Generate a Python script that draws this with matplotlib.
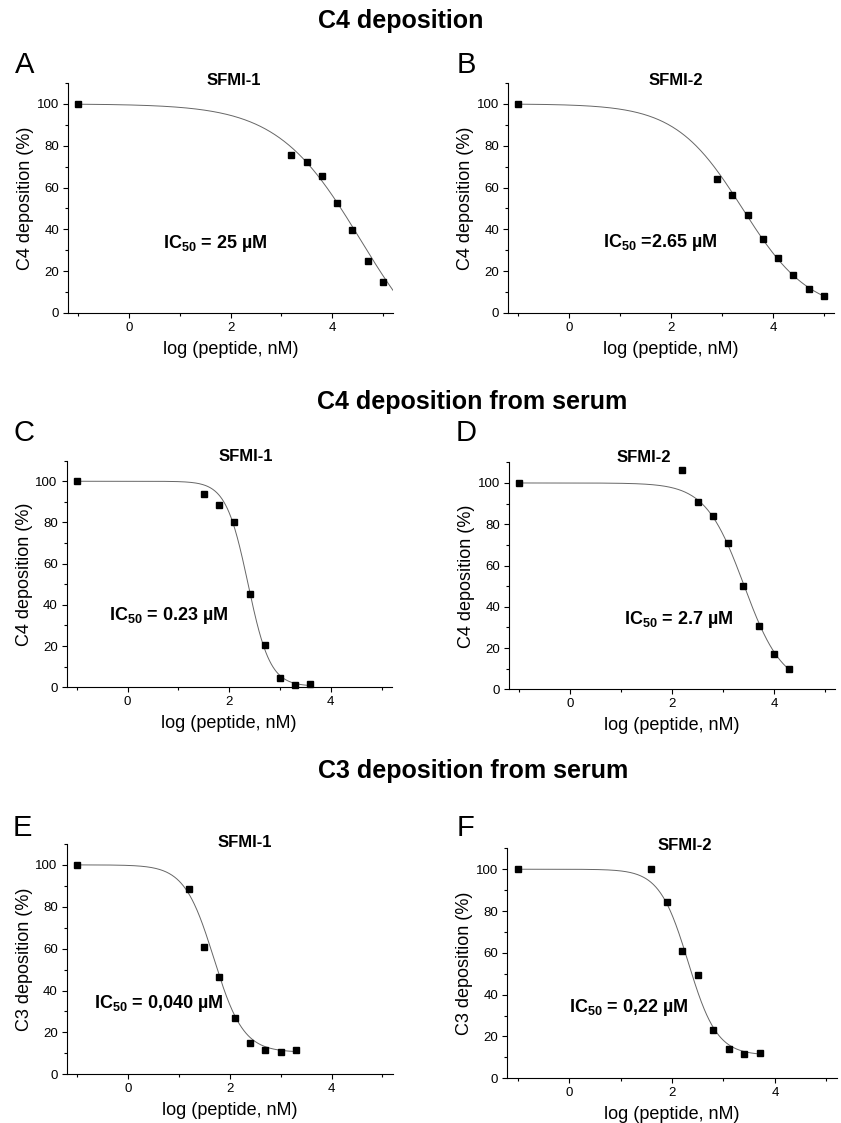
import matplotlib
matplotlib.use('Agg')
import matplotlib.pyplot as plt
import numpy as np
from matplotlib.ticker import MultipleLocator

plt.rcParams['font.family'] = ['Liberation Sans', 'DejaVu Sans']
plt.rcParams['mathtext.fontset'] = 'custom'
plt.rcParams['mathtext.rm'] = 'Liberation Sans:bold'
plt.rcParams['mathtext.bf'] = 'Liberation Sans:bold'
plt.rcParams['mathtext.default'] = 'rm'

# data: x = log(peptide, nM), y = deposition (%)
a_x = [-1, 3.2, 3.5, 3.8, 4.1, 4.4, 4.7, 5.0]
a_y = [100, 75.6, 72.2, 65.4, 52.8, 39.9, 24.9, 14.8]
b_x = [-1, 2.9, 3.2, 3.5, 3.8, 4.1, 4.4, 4.7, 5.0]
b_y = [100, 64.2, 56.4, 46.7, 35.4, 26.3, 18.2, 11.3, 8.3]
c_x = [-1, 1.5, 1.8, 2.1, 2.4, 2.7, 3.0, 3.3, 3.6]
c_y = [100, 94.0, 88.4, 80.0, 45.1, 20.4, 4.4, 1.1, 1.6]
d_x = [-1, 2.2, 2.5, 2.8, 3.1, 3.4, 3.7, 4.0, 4.3]
d_y = [100, 106.5, 90.8, 84.2, 70.8, 49.9, 30.9, 17.1, 10.0]
e_x = [-1, 1.2, 1.5, 1.8, 2.1, 2.4, 2.7, 3.0, 3.3]
e_y = [100, 88.7, 60.9, 46.6, 27.0, 14.8, 11.4, 10.8, 11.6]
f_x = [-1, 1.6, 1.9, 2.2, 2.5, 2.8, 3.1, 3.4, 3.7]
f_y = [100, 100, 84.4, 61.1, 49.5, 22.9, 13.9, 11.6, 12.3]

# fitted curves: top, bottom, logIC50, hill slope
a_fit = [100, -30, 4.56, 0.53]
b_fit = [100, 0, 3.40, 0.66]
c_fit = [100, 0.5, 2.37, 2.0]
d_fit = [100, 1, 3.41, 1.15]
e_fit = [100, 10.5, 1.69, 1.5]
f_fit = [100, 11, 2.315, 1.55]

ic_labels = ['IC$_{50}$ = 25 \u00b5M', 'IC$_{50}$ =2.65 \u00b5M', 'IC$_{50}$ = 0.23 \u00b5M',
             'IC$_{50}$ = 2.7 \u00b5M', 'IC$_{50}$ = 0,040 \u00b5M', 'IC$_{50}$ = 0,22 \u00b5M']


def hill(x, top, bottom, logic, h):
    return bottom + (top - bottom) / (1 + 10 ** (h * (x - logic)))


def panel(rect, x, y, fit, x_end, name, ylabel, ic, ic_xy, name_xy, letter, letter_xy):
    ax = fig.add_axes(rect)
    xs = np.linspace(x[0], x_end, 400)
    ax.plot(xs, hill(xs, *fit), color='#666666', lw=0.7)
    ax.plot(x, y, 's', color='black', ms=5, clip_on=False)
    ax.set_xlim(-1.2, 5.2)
    ax.set_ylim(0, 110)
    ax.spines['top'].set_visible(False)
    ax.spines['right'].set_visible(False)
    ax.xaxis.set_major_locator(MultipleLocator(2))
    ax.xaxis.set_minor_locator(MultipleLocator(1))
    ax.yaxis.set_major_locator(MultipleLocator(20))
    ax.yaxis.set_minor_locator(MultipleLocator(10))
    ax.tick_params(which='major', length=3.5, width=0.8, labelsize=9.5, pad=3)
    ax.tick_params(which='minor', length=2, width=0.8)
    ax.set_xlabel('log (peptide, nM)', fontsize=13, labelpad=5)
    ax.set_ylabel(ylabel, fontsize=13, labelpad=2)
    ax.text(ic_xy[0], ic_xy[1], ic, fontsize=13, fontweight='bold', ha='center', va='center')
    ax.text(name_xy[0], name_xy[1], name, fontsize=12, fontweight='bold', ha='center', va='center')
    fig.text(letter_xy[0], letter_xy[1], letter, fontsize=21, va='baseline')
    return ax


fig = plt.figure(figsize=(8.41, 11.23), dpi=100)

fig.text(0.477, 0.981, 'C4 deposition', fontsize=18, fontweight='bold', ha='center', va='center')
fig.text(0.561, 0.6416, 'C4 deposition from serum', fontsize=18, fontweight='bold', ha='center', va='center')
fig.text(0.562, 0.3134, 'C3 deposition from serum', fontsize=18, fontweight='bold', ha='center', va='center')

panel([0.0809, 0.7213, 0.3864, 0.2048], a_x, a_y, a_fit, 5.2, 'SFMI-1', 'C4 deposition (%)',
      ic_labels[0], (1.7, 33), (2.06, 111), 'A', (0.018, 0.935))
panel([0.6044, 0.7213, 0.3873, 0.2048], b_x, b_y, b_fit, 5.0, 'SFMI-2', 'C4 deposition (%)',
      ic_labels[1], (1.79, 33.5), (2.1, 111), 'B', (0.543, 0.935))
panel([0.0793, 0.3880, 0.3865, 0.2018], c_x, c_y, c_fit, 3.6, 'SFMI-1', 'C4 deposition (%)',
      ic_labels[2], (0.8, 35), (2.33, 112), 'C', (0.0155, 0.6073))
panel([0.6056, 0.3862, 0.3873, 0.2021], d_x, d_y, d_fit, 4.3, 'SFMI-2', 'C4 deposition (%)',
      ic_labels[3], (2.12, 34), (1.44, 112.5), 'D', (0.542, 0.6073))
panel([0.0793, 0.0434, 0.3876, 0.2051], e_x, e_y, e_fit, 3.3, 'SFMI-1', 'C3 deposition (%)',
      ic_labels[4], (0.6, 34), (2.3, 110.5), 'E', (0.0155, 0.2556))
panel([0.6032, 0.0398, 0.3917, 0.2048], f_x, f_y, f_fit, 3.7, 'SFMI-2', 'C3 deposition (%)',
      ic_labels[5], (1.16, 34), (2.25, 111.5), 'F', (0.543, 0.2556))

fig.savefig('out.png', dpi=100)
